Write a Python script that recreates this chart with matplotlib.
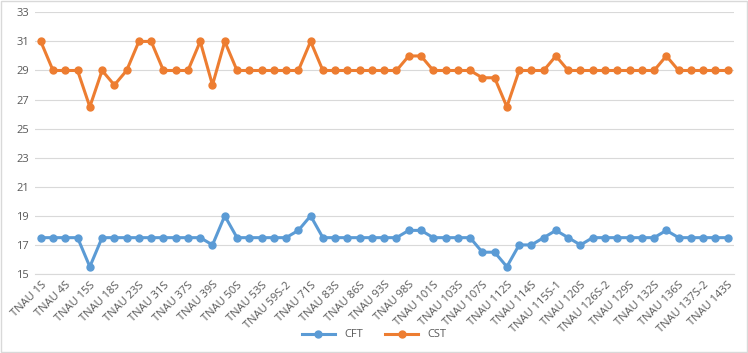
import numpy as np
import matplotlib
matplotlib.use("Agg")
import matplotlib.pyplot as plt
from matplotlib.patches import Rectangle

# donnees
labels = ["TNAU 1S", "", "TNAU 4S", "", "TNAU 15S", "", "TNAU 18S", "", "TNAU 23S", "",
          "TNAU 31S", "", "TNAU 37S", "", "TNAU 39S", "", "TNAU 50S", "", "TNAU 53S", "",
          "TNAU 59S-2", "", "TNAU 71S", "", "TNAU 83S", "", "TNAU 86S", "", "TNAU 93S", "",
          "TNAU 98S", "", "TNAU 101S", "", "TNAU 103S", "", "TNAU 107S", "", "TNAU 112S", "",
          "TNAU 114S", "", "TNAU 115S-1", "", "TNAU 120S", "", "TNAU 126S-2", "", "TNAU 129S", "",
          "TNAU 132S", "", "TNAU 136S", "", "TNAU 137S-2", "", "TNAU 143S"]

cft = [17.5, 17.5, 17.5, 17.5, 15.5, 17.5, 17.5, 17.5, 17.5, 17.5,
       17.5, 17.5, 17.5, 17.5, 17, 19, 17.5, 17.5, 17.5, 17.5,
       17.5, 18, 19, 17.5, 17.5, 17.5, 17.5, 17.5, 17.5, 17.5,
       18, 18, 17.5, 17.5, 17.5, 17.5, 16.5, 16.5, 15.5, 17,
       17, 17.5, 18, 17.5, 17, 17.5, 17.5, 17.5, 17.5, 17.5,
       17.5, 18, 17.5, 17.5, 17.5, 17.5, 17.5]

cst = [31, 29, 29, 29, 26.5, 29, 28, 29, 31, 31,
       29, 29, 29, 31, 28, 31, 29, 29, 29, 29,
       29, 29, 31, 29, 29, 29, 29, 29, 29, 29,
       30, 30, 29, 29, 29, 29, 28.5, 28.5, 26.5, 29,
       29, 29, 30, 29, 29, 29, 29, 29, 29, 29,
       29, 30, 29, 29, 29, 29, 29]

yticks = [15, 17, 19, 21, 23, 25, 27, 29, 31, 33]

gris = "#595959"

fig = plt.figure(figsize=(7.48, 3.53), dpi=100)
ax = fig.add_axes([0.0463, 0.2238, 0.981 - 0.0463, 0.965 - 0.2238])

x = np.arange(len(labels))
ax.plot(x, cft, color="#5B9BD5", lw=2.2, marker="o", ms=5, label="CFT")
ax.plot(x, cst, color="#ED7D31", lw=2.2, marker="o", ms=5, label="CST")

ax.set_xlim(-0.5, len(labels) - 0.5)
ax.set_ylim(15, 33)
ax.set_yticks(yticks)
ax.yaxis.grid(True, color="#d9d9d9", lw=0.8)
ax.set_axisbelow(True)
for s in ax.spines.values():
    s.set_visible(False)
ax.spines["bottom"].set_visible(True)
ax.spines["bottom"].set_color("#d9d9d9")

ax.set_xticks(x[::2])
ax.set_xticklabels(labels[::2], rotation=45, ha="right", rotation_mode="anchor",
                   fontsize=8, color=gris, family="Open Sans")
ax.tick_params(axis="both", length=0, pad=4)
for t in ax.get_yticklabels():
    t.set_fontsize(8)
    t.set_color(gris)
    t.set_family("Open Sans")

fig.legend(loc="center", bbox_to_anchor=(0.5, 0.051), ncol=2, frameon=False,
           prop={"family": "Open Sans", "size": 8}, labelcolor=gris,
           handlelength=3, columnspacing=2)

# bordure du graphique facon Excel
fig.patches.append(Rectangle((0.001, 0.002), 0.997, 0.995, transform=fig.transFigure,
                             fill=False, ec="#d9d9d9", lw=1))

fig.savefig("out.png", dpi=100)
